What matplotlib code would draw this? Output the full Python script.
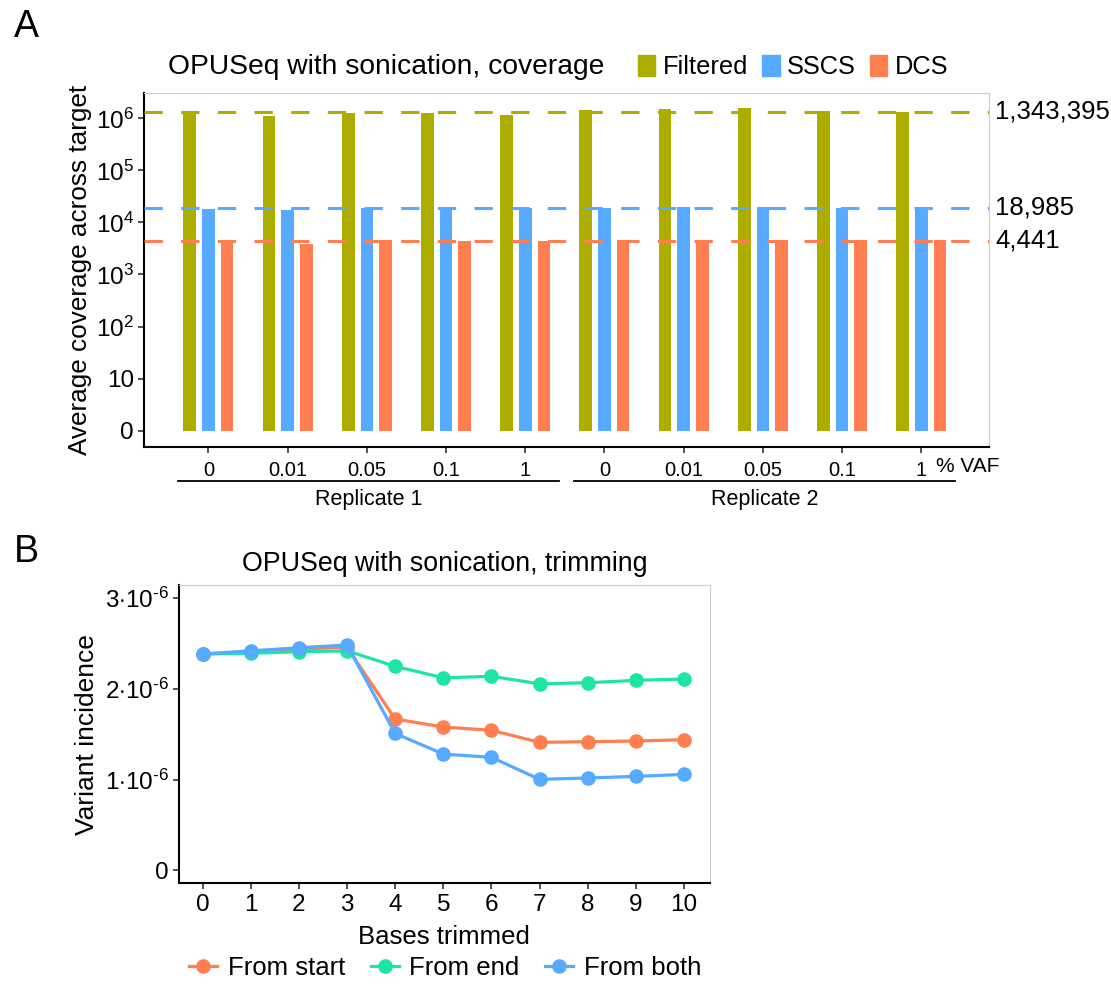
import numpy as np
import matplotlib
matplotlib.use("Agg")
import matplotlib.pyplot as plt
from matplotlib.patches import Patch
from matplotlib.lines import Line2D

plt.rcParams["font.family"] = ["Liberation Sans", "DejaVu Sans"]
plt.rcParams["mathtext.fontset"] = "custom"
plt.rcParams["mathtext.rm"] = "Liberation Sans"
plt.rcParams["mathtext.it"] = "Liberation Sans:italic"
plt.rcParams["mathtext.bf"] = "Liberation Sans:bold"

# =========================
# Data
# =========================
# panel A: coverage per sample
vaf_labels = ["0", "0.01", "0.05", "0.1", "1", "0", "0.01", "0.05", "0.1", "1"]
replicates = ["Replicate 1", "Replicate 2"]
filtered = [1.29e6, 1.10e6, 1.25e6, 1.29e6, 1.15e6, 1.42e6, 1.48e6, 1.56e6, 1.38e6, 1.34e6]
sscs = [18500, 17500, 18900, 19500, 19300, 19300, 19700, 19700, 18900, 18900]
dcs = [4120, 3850, 4590, 4450, 4320, 4590, 4590, 4590, 4510, 4510]
mean_filtered = 1343395
mean_sscs = 18985
mean_dcs = 4441

# panel B: trimming
bases_trimmed = [0, 1, 2, 3, 4, 5, 6, 7, 8, 9, 10]
from_start = [2.385e-6, 2.41e-6, 2.44e-6, 2.46e-6, 1.668e-6, 1.58e-6, 1.544e-6,
              1.411e-6, 1.418e-6, 1.426e-6, 1.44e-6]
from_end = [2.385e-6, 2.393e-6, 2.41e-6, 2.42e-6, 2.249e-6, 2.123e-6, 2.139e-6,
            2.057e-6, 2.068e-6, 2.095e-6, 2.109e-6]
from_both = [2.385e-6, 2.42e-6, 2.454e-6, 2.484e-6, 1.51e-6, 1.282e-6, 1.246e-6,
             1.003e-6, 1.018e-6, 1.036e-6, 1.058e-6]

col_filt = "#ADAD00"
col_sscs = "#56AAFF"
col_dcs = "#FF7F50"
col_end = "#1DE5A5"

W, H = 1111, 985
fig = plt.figure(figsize=(W / 100, H / 100), dpi=100)


def frac(l, t, r, b):
    return [l / W, 1 - b / H, (r - l) / W, (b - t) / H]


def style_axes(ax):
    for s in ["left", "bottom"]:
        ax.spines[s].set_color("black")
        ax.spines[s].set_linewidth(1.5)
    for s in ["top", "right"]:
        ax.spines[s].set_color("#CCCCCC")
        ax.spines[s].set_linewidth(0.8)
    ax.tick_params(length=4, width=1.2, color="#333333")


# =========================
# Panel A
# =========================
axA = fig.add_axes(frac(144.3, 92.7, 988.6, 446.7))
style_axes(axA)
x = np.arange(1, len(vaf_labels) + 1)
w = 0.16
off = 0.236
axA.bar(x - off, np.array(filtered) - 1, bottom=1, width=w, color=col_filt)
axA.bar(x, np.array(sscs) - 1, bottom=1, width=w, color=col_sscs)
axA.bar(x + off, np.array(dcs) - 1, bottom=1, width=w, color=col_dcs)
axA.set_yscale("log")
axA.set_ylim(10 ** -0.308, 10 ** 6.492)
axA.set_xlim(1 - 0.81, 10 + 0.85)
for val, c in [(mean_filtered, col_filt), (mean_sscs, col_sscs), (mean_dcs, col_dcs)]:
    axA.axhline(val, color=c, lw=2.2, ls=(0, (6, 6)), zorder=5)
    axA.text(1.008, val, f"{val:,}", transform=axA.get_yaxis_transform(),
             ha="left", va="center", fontsize=18.5)

yt = [1, 10, 1e2, 1e3, 1e4, 1e5, 1e6]
axA.set_yticks(yt)
axA.set_yticklabels(["0", "10", r"$10^{2}$", r"$10^{3}$", r"$10^{4}$", r"$10^{5}$", r"$10^{6}$"],
                    fontsize=17.5)
axA.minorticks_off()
axA.set_xticks(x)
axA.set_xticklabels(vaf_labels, fontsize=14.5)
axA.tick_params(axis="x", pad=6)
axA.text(936 / W, 1 - 466 / H, "% VAF", transform=fig.transFigure,
         ha="left", va="center", fontsize=15)
axA.set_ylabel("Average coverage across target", fontsize=18.8, labelpad=3)

# replicate brackets
for i, rep in enumerate(replicates):
    x0 = 1 + 5 * i - 0.38
    x1 = 5 + 5 * i + 0.43
    y_line = 1 - 481 / H
    xf0 = axA.transData.transform((x0, 1))[0] / W
    xf1 = axA.transData.transform((x1, 1))[0] / W
    fig.add_artist(Line2D([xf0, xf1], [y_line, y_line], color="black", lw=1.3,
                          transform=fig.transFigure))
    fig.text((xf0 + xf1) / 2, 1 - 500 / H, rep, ha="center", va="center", fontsize=15.5)

fig.text(168 / W, 1 - 67 / H, "OPUSeq with sonication, coverage",
         ha="left", va="center", fontsize=20.3)
handles = [Patch(color=col_filt), Patch(color=col_sscs), Patch(color=col_dcs)]
fig.legend(handles, ["Filtered", "SSCS", "DCS"], loc="center left",
           bbox_to_anchor=(638 / W, 1 - 67 / H), ncol=3, frameon=False,
           fontsize=18.3, handlelength=0.68, handleheight=0.9, handletextpad=0.3,
           columnspacing=0.55, borderpad=0, borderaxespad=0)
fig.text(14 / W, 1 - 27 / H, "A", ha="left", va="center", fontsize=27)

# =========================
# Panel B
# =========================
axB = fig.add_axes(frac(179, 585, 709.5, 883.3))
style_axes(axB)
for vals, c in [(from_start, col_dcs), (from_end, col_end), (from_both, col_sscs)]:
    axB.plot(bases_trimmed, vals, color=c, lw=2.3, marker="o", ms=9.5)
axB.set_xlim(-0.49, 10.53)
axB.set_ylim(-0.143e-6, 3.146e-6)
axB.set_xticks(bases_trimmed)
axB.set_xticklabels([str(b) for b in bases_trimmed], fontsize=17.5)
axB.set_yticks([0, 1e-6, 2e-6, 3e-6])
axB.set_yticklabels(["0", r"$1{\cdot}10^{\text{-}6}$", r"$2{\cdot}10^{\text{-}6}$",
                     r"$3{\cdot}10^{\text{-}6}$"], fontsize=17.5)
axB.set_xlabel("Bases trimmed", fontsize=18.5, labelpad=7)
axB.set_ylabel("Variant incidence", fontsize=19, labelpad=4)
axB.set_title("OPUSeq with sonication, trimming", fontsize=19.3, pad=10)

hB = [Line2D([], [], color=c, lw=2.3, marker="o", ms=9.5)
      for c in (col_dcs, col_end, col_sscs)]
fig.legend(hB, ["From start", "From end", "From both"], loc="center",
           bbox_to_anchor=(445 / W, 1 - 968 / H), ncol=3, frameon=False,
           fontsize=18.5, handlelength=1.1, handletextpad=0.4, columnspacing=1.0,
           borderpad=0, borderaxespad=0)
fig.text(14 / W, 1 - 552 / H, "B", ha="left", va="center", fontsize=27)

plt.savefig("out.png", dpi=100)
plt.close()
